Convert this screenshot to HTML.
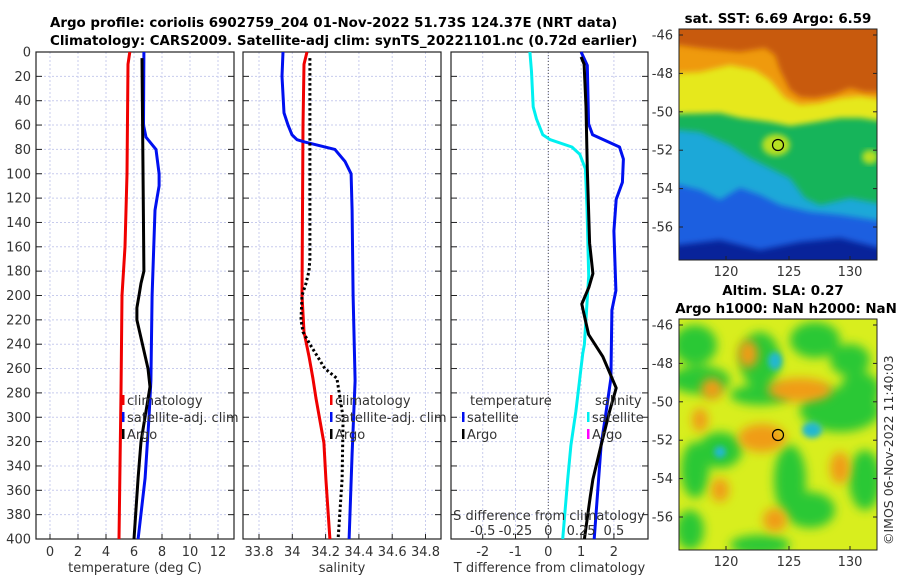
<!DOCTYPE html>
<html><head><meta charset="utf-8">
<style>
html,body{margin:0;padding:0;background:#fff;}
svg{display:block;font-family:"DejaVu Sans","Liberation Sans",sans-serif;}
.t{font-size:13px;fill:#333;}
.ttl{font-size:13.4px;font-weight:bold;fill:#000;}
</style></head>
<body>
<svg id="fig" width="900" height="580" viewBox="0 0 900 580" xmlns="http://www.w3.org/2000/svg">
<defs>
<filter id="bl" x="-20%" y="-20%" width="140%" height="140%"><feGaussianBlur stdDeviation="3"/></filter>
<filter id="bl2" x="-30%" y="-30%" width="160%" height="160%"><feGaussianBlur stdDeviation="5"/></filter>
<clipPath id="c1"><rect x="679" y="29" width="198" height="231"/></clipPath>
<clipPath id="c2"><rect x="679" y="319" width="198" height="231"/></clipPath>
</defs>
<text class="ttl" x="50" y="27">Argo profile: coriolis 6902759_204 01-Nov-2022 51.73S 124.37E (NRT data)</text>
<text class="ttl" x="50" y="45">Climatology: CARS2009. Satellite-adj clim: synTS_20221101.nc (0.72d earlier)</text>

<!-- SST map -->
<g>
<text class="ttl" x="778" y="23" text-anchor="middle">sat. SST: 6.69 Argo: 6.59</text>
<g clip-path="url(#c1)">
<rect x="679" y="29" width="198" height="231" fill="#08239a"/>
<polygon filter="url(#bl)" fill="#1a5fe0" points="670,20 887,20 887,250 840,238 800,242 760,250 720,240 679,245 670,245"/>
<polygon filter="url(#bl)" fill="#1aa8d8" points="670,20 887,20 887,222 840,215 810,212 780,205 760,195 740,188 720,200 700,190 679,185 670,185"/>
<polygon filter="url(#bl)" fill="#14b45a" points="670,20 887,20 887,205 850,198 820,205 805,198 790,178 770,168 750,158 730,145 700,132 679,130 670,130"/>
<polygon filter="url(#bl)" fill="#e6e81a" points="670,20 887,20 887,122 860,118 840,118 810,123 790,126 770,122 740,118 720,113 679,114 670,114"/>
<ellipse filter="url(#bl)" cx="776" cy="145" rx="14" ry="11" fill="#b8e020"/>
<ellipse filter="url(#bl)" cx="870" cy="157" rx="8" ry="7" fill="#b8e020"/>
<polygon filter="url(#bl)" fill="#ef9a10" points="670,20 887,20 887,100 860,96 840,98 820,103 800,105 785,98 770,80 755,70 730,65 700,72 679,73 670,73"/>
<polygon filter="url(#bl)" fill="#c85a08" points="670,20 887,20 887,92 865,92 850,88 835,94 815,98 800,97 790,90 780,70 775,55 765,48 740,52 720,50 700,48 679,45 670,45"/>
</g>
<rect x="679" y="29" width="198" height="231" fill="none" stroke="#222" stroke-width="1"/>
<circle cx="778" cy="145" r="5.5" fill="none" stroke="#000" stroke-width="1.2"/>
<g id="m1ticks"></g>
</g>

<!-- SLA map -->
<g>
<text class="ttl" x="783" y="295" text-anchor="middle">Altim. SLA: 0.27</text>
<text class="ttl" x="786" y="313" text-anchor="middle">Argo h1000: NaN h2000: NaN</text>
<g clip-path="url(#c2)">
<rect x="679" y="319" width="198" height="231" fill="#d8ee1e"/>
<g filter="url(#bl2)" fill="#2ac836">
<ellipse cx="695" cy="345" rx="22" ry="20"/>
<ellipse cx="700" cy="380" rx="30" ry="14"/>
<ellipse cx="760" cy="360" rx="20" ry="28"/>
<ellipse cx="815" cy="340" rx="25" ry="18"/>
<ellipse cx="760" cy="395" rx="30" ry="10"/>
<ellipse cx="840" cy="410" rx="40" ry="22"/>
<ellipse cx="860" cy="390" rx="20" ry="18"/>
<ellipse cx="850" cy="360" rx="20" ry="16"/>
<ellipse cx="720" cy="450" rx="22" ry="18"/>
<ellipse cx="695" cy="470" rx="14" ry="28"/>
<ellipse cx="790" cy="480" rx="16" ry="35"/>
<ellipse cx="810" cy="510" rx="25" ry="18"/>
<ellipse cx="865" cy="480" rx="16" ry="30"/>
<ellipse cx="690" cy="530" rx="14" ry="20"/>
<ellipse cx="760" cy="545" rx="30" ry="10"/>
</g>
<g filter="url(#bl2)" fill="#f09c18">
<ellipse cx="748" cy="354" rx="10" ry="14"/>
<ellipse cx="712" cy="389" rx="11" ry="11"/>
<ellipse cx="800" cy="390" rx="32" ry="12"/>
<ellipse cx="762" cy="438" rx="24" ry="14"/>
<ellipse cx="840" cy="468" rx="10" ry="16"/>
<ellipse cx="720" cy="490" rx="9" ry="12"/>
<ellipse cx="775" cy="520" rx="12" ry="12"/>
<ellipse cx="700" cy="420" rx="8" ry="12"/>
</g>
<g filter="url(#bl)" fill="#22b8d0">
<ellipse cx="775" cy="361" rx="7" ry="9"/>
<ellipse cx="812" cy="430" rx="10" ry="8"/>
<ellipse cx="720" cy="452" rx="6" ry="6"/>
</g>
</g>
<rect x="679" y="319" width="198" height="231" fill="none" stroke="#222" stroke-width="1"/>
<circle cx="778" cy="435" r="5.5" fill="none" stroke="#000" stroke-width="1.2"/>
<g id="m2ticks"></g>
<text class="t" transform="translate(893,545) rotate(-90)" style="font-size:12.5px">©IMOS 06-Nov-2022 11:40:03</text>
</g>

<g id="p1"></g>
<g id="p2"></g>
<g id="p3"></g>
</svg>
<script>
// ---- data ----
const depthTicks = [0,20,40,60,80,100,120,140,160,180,200,220,240,260,280,300,320,340,360,380,400];
const tempTicks = [0,2,4,6,8,10,12];
const salTicks = [33.8,34,34.2,34.4,34.6,34.8];
const salTickLabels = ["33.8","34","34.2","34.4","34.6","34.8"];
const tdiffTicks = [-2,-1,0,1,2];
const sdiffTicks = [-0.5,-0.25,0,0.25,0.5];
const sdiffLabels = ["-0.5","-0.25","0","0.25","0.5"];

const climTempDepth = [0,10,100,160,200,280,400];
const climTemp = [5.7,5.57,5.5,5.36,5.14,5.07,4.93];
const satTempDepth = [0,60,70,80,100,110,120,130,200,270,300,350,400];
const satTemp = [6.71,6.68,6.86,7.57,7.79,7.79,7.64,7.5,7.29,7.21,7.07,6.79,6.29];
const argoTempDepth = [5,180,190,200,210,220,260,275,290,320,350,400];
const argoTemp = [6.57,6.71,6.5,6.36,6.21,6.21,7.0,7.14,6.93,6.5,6.29,6.0];

const climSalDepth = [0,10,60,200,230,250,268,284,321,351,400];
const climSal = [34.088,34.07,34.064,34.058,34.07,34.1,34.124,34.142,34.19,34.202,34.226];
const satSalDepth = [0,20,50,60,68,72,74,80,90,100,130,200,270,330,400];
const satSal = [33.944,33.938,33.95,33.974,33.998,34.028,34.076,34.256,34.317,34.353,34.359,34.365,34.377,34.359,34.341];
const argoSalDepth = [5,170,180,190,200,220,230,240,260,268,300,351,400];
const argoSal = [34.106,34.106,34.1,34.082,34.058,34.052,34.064,34.106,34.196,34.268,34.305,34.299,34.275];

const satTdiffDepth = [0,11,59,68,78,88,107,121,147,196,212,268,296,323,400];
const satTdiff = [1.0,1.19,1.23,1.35,2.17,2.29,2.26,2.07,2.0,2.06,1.94,1.91,1.76,1.61,1.4];
const argoTdiffDepth = [4,10,45,96,157,182,193,207,212,232,250,276,295,323,351,365,400];
const argoTdiff = [1.0,1.09,1.15,1.19,1.26,1.36,1.24,1.02,1.06,1.23,1.66,2.07,1.87,1.61,1.36,1.28,1.1];
const satSdiffDepth = [0,16,45,55,68,72,78,84,96,128,184,240,248,268,295,323,351,400];
const satSdiff = [-0.14,-0.128,-0.115,-0.09,-0.042,0.015,0.18,0.24,0.283,0.295,0.308,0.275,0.262,0.24,0.21,0.172,0.148,0.11];

// ---- helpers ----
const NS="http://www.w3.org/2000/svg";
function mk(tag,attrs,parent){const e=document.createElementNS(NS,tag);for(const k in attrs)e.setAttribute(k,attrs[k]);parent.appendChild(e);return e;}
const Y0=52,Y1=539;
function yD(d){return Y0+(d/400)*(Y1-Y0);}
function panel(g,x0,x1,vmin,vmax,ticks,labels,xlabel,showY){
  const xs=v=>x0+(v-vmin)/(vmax-vmin)*(x1-x0);
  ticks.forEach((v,i)=>{
    const l=mk('line',{x1:xs(v),x2:xs(v),y1:Y0,y2:Y1,stroke:'#c8cced','stroke-width':1,'stroke-dasharray':'2,2'},g);
    
    
    const t=mk('text',{x:xs(v),y:556,'text-anchor':'middle',class:'t'},g);
    t.textContent=labels[i];
    
    
    mk('line',{x1:xs(v),x2:xs(v),y1:Y1,y2:Y1-5,stroke:'#222'},g);
  });
  depthTicks.forEach(d=>{
    const l=mk('line',{x1:x0,x2:x1,y1:yD(d),y2:yD(d),stroke:'#c8cced','stroke-width':1,'stroke-dasharray':'2,2'},g);
    
    
    mk('line',{x1:x0,x2:x0+6,y1:yD(d),y2:yD(d),stroke:'#222'},g);
    mk('line',{x1:x1,x2:x1-6,y1:yD(d),y2:yD(d),stroke:'#222'},g);
    if(showY){const t=mk('text',{x:31,y:yD(d)+4.5,'text-anchor':'end',class:'t'},g);t.textContent=d;
      
      }
  });
  const fr=mk('rect',{x:x0,y:Y0,width:x1-x0,height:Y1-Y0,fill:'none',stroke:'#222','stroke-width':1.2},g);
  
  
  const xl=mk('text',{x:(x0+x1)/2,y:572,'text-anchor':'middle',class:'t'},g);
  xl.textContent=xlabel;
  
  
  return xs;
}
function line(g,xs,vals,depths,color,name,dash){
  const pts=vals.map((v,i)=>xs(v).toFixed(1)+','+yD(depths[i]).toFixed(1)).join(' ');
  const a={points:pts,fill:'none',stroke:color,'stroke-width':3,'stroke-linejoin':'round'};
  if(dash)a['stroke-dasharray']=dash;
  const p=mk('polyline',a,g);
  
  
}
function legend(g,x,y,color,label,name){
  mk('rect',{x:x,y:y-10,width:2.5,height:10,fill:color},g);
  const t=mk('text',{x:x+5,y:y,class:'t'},g);
  t.textContent=label;
  
  
}
// Panel 1
const g1=document.getElementById('p1');
const xs1=panel(g1,36,234,-1/1,(234-50)/14,tempTicks,tempTicks.map(String),'temperature (deg C)',true);
line(g1,xs1,climTemp,climTempDepth,'#f00000','climatology-temperature-line');
line(g1,xs1,satTemp,satTempDepth,'#0010f0','satellite-adj-temperature-line');
line(g1,xs1,argoTemp,argoTempDepth,'#000','argo-temperature-line');
legend(g1,122,405,'#f00000','climatology','legend-climatology');
legend(g1,122,422,'#0010f0','satellite-adj. clim','legend-satellite-adj');
legend(g1,122,439,'#000','Argo','legend-argo');
// Panel 2
const g2=document.getElementById('p2');
const xs2=panel(g2,243,441,33.8-16/166.5,33.8+(441-259)/166.5,salTicks,salTickLabels,'salinity',false);
line(g2,xs2,climSal,climSalDepth,'#f00000','climatology-salinity-line');
line(g2,xs2,satSal,satSalDepth,'#0010f0','satellite-adj-salinity-line');
line(g2,xs2,argoSal,argoSalDepth,'#000','argo-salinity-line','2.5,2.5');
legend(g2,330,405,'#f00000','climatology','legend-climatology-sal');
legend(g2,330,422,'#0010f0','satellite-adj. clim','legend-satellite-adj-sal');
legend(g2,330,439,'#000','Argo','legend-argo-sal');
// Panel 3
const g3=document.getElementById('p3');
const tmin=(451-548.3)/32.8,tmax=(648-548.3)/32.8;
const xs3=panel(g3,451,648,tmin,tmax,tdiffTicks,tdiffTicks.map(String),'T difference from climatology',false);
const z=mk('line',{x1:xs3(0),x2:xs3(0),y1:Y0,y2:Y1,stroke:'#555','stroke-dasharray':'1,2','stroke-width':1},g3);


const xsS=v=>xs3(v*4);
line(g3,xsS,satSdiff,satSdiffDepth,'#00f0f0','satellite-salinity-diff-line');
line(g3,xs3,satTdiff,satTdiffDepth,'#0010f0','satellite-temperature-diff-line');
line(g3,xs3,argoTdiff,argoTdiffDepth,'#000','argo-temperature-diff-line');
const st=mk('text',{x:549,y:520,'text-anchor':'middle',class:'t'},g3);
st.textContent='S difference from climatology';


sdiffTicks.forEach((v,i)=>{const t=mk('text',{x:xsS(v),y:535,'text-anchor':'middle',class:'t'},g3);t.textContent=sdiffLabels[i];
  
  });
const lt=mk('text',{x:470,y:405,class:'t'},g3);lt.textContent='temperature';


const ls=mk('text',{x:595,y:405,class:'t'},g3);ls.textContent='salinity';


legend(g3,462,422,'#0010f0','satellite','legend-t-satellite');
legend(g3,462,439,'#000','Argo','legend-t-argo');
legend(g3,587,422,'#00f0f0','satellite','legend-s-satellite');
legend(g3,587,439,'#ff00ff','Argo','legend-s-argo');
// Map ticks
function mapTicks(id,top,bot,lat0y,latStep){
  const g=document.getElementById(id);
  [[120,726],[125,789],[130,850]].forEach(([lab,x])=>{
    const t=mk('text',{x:x,y:bot+16,'text-anchor':'middle',class:'t'},g);t.textContent=lab;
    
    
    mk('line',{x1:x,x2:x,y1:bot,y2:bot-4,stroke:'#222'},g);
  });
  [-46,-48,-50,-52,-54,-56].forEach((lab,i)=>{
    const y=lat0y+i*latStep;
    const t=mk('text',{x:673,y:y+4.5,'text-anchor':'end',class:'t'},g);t.textContent=lab;
    
    
    mk('line',{x1:679,x2:683,y1:y,y2:y,stroke:'#222'},g);
    mk('line',{x1:877,x2:873,y1:y,y2:y,stroke:'#222'},g);
  });
}
mapTicks('m1ticks',29,260,35,38.4);
mapTicks('m2ticks',319,550,325,38.4);
</script>
</body></html>
